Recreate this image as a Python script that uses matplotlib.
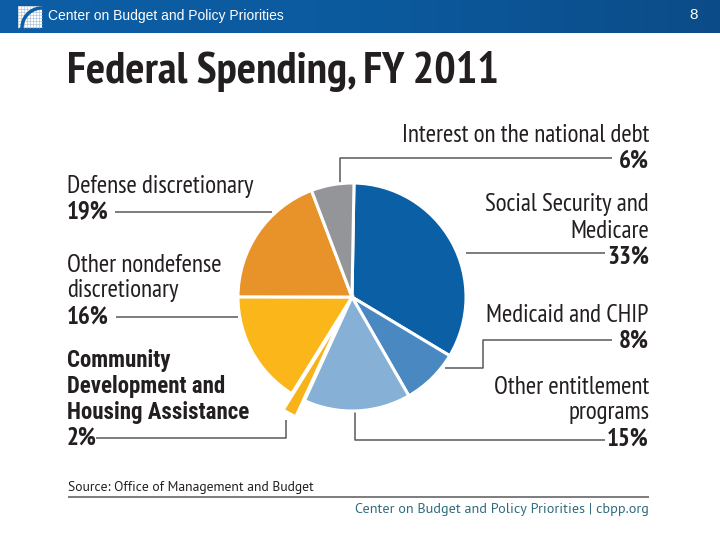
import matplotlib
matplotlib.use("Agg")
import matplotlib.pyplot as plt
import numpy as np
from matplotlib.colors import LinearSegmentedColormap

# ---------- data ----------
categories = ["Social Security and Medicare", "Medicaid and CHIP", "Other entitlement programs",
              "Community Development and Housing Assistance", "Other nondefense discretionary",
              "Defense discretionary", "Interest on the national debt"]
shares = [33, 8, 15, 2, 16, 19, 6]
colors = ["#0b5fa5", "#4a88c1", "#87b0d6", "#f8b31b", "#fbb719", "#e8922a", "#939598"]
explode = [0, 0, 0, 0.16, 0, 0, 0]

FAM = ["PT Sans Narrow", "DejaVu Sans"]
FAM_B = ["Roboto Condensed", "PT Sans Narrow", "DejaVu Sans"]
FAM_FOOT = ["PT Sans", "DejaVu Sans"]

W, H = 720, 540
fig = plt.figure(figsize=(W / 100, H / 100), dpi=100)

# overlay axes in pixel coordinates
ov = fig.add_axes([0, 0, 1, 1])
ov.set_xlim(0, W); ov.set_ylim(H, 0); ov.axis("off")

# header bar
grad = np.linspace(0, 1, 256)[None, :]
cm = LinearSegmentedColormap.from_list("hdr", ["#0c5ea6", "#0c5a9e", "#0b4c88"])
ov.imshow(grad, cmap=cm, extent=[0, W, 33, 0], aspect="auto", zorder=0)
# logo
ov.add_patch(plt.Rectangle((18, 6), 24, 22, facecolor="white", edgecolor="none", zorder=1))
for gx in np.arange(18, 42, 3):
    ov.plot([gx, gx], [6, 28], color="#9fb8d0", lw=0.4, zorder=2)
for gy in np.arange(6, 28, 3):
    ov.plot([18, 42], [gy, gy], color="#9fb8d0", lw=0.4, zorder=2)
th = np.linspace(np.pi / 2, np.pi, 30)
ov.plot(42 + 20 * np.cos(th), 28 - 20 * np.sin(th), color="#0c5ea6", lw=2.5, zorder=3)
ov.text(48, 16, "Center on Budget and Policy Priorities", color="white", fontsize=10,
        family="Liberation Sans", va="center", ha="left")
ov.text(698, 15, "8", color="white", fontsize=11, family="Liberation Sans", va="center", ha="right")

# title
ov.text(67, 72, "Federal Spending, FY 2011", fontsize=32.5, fontweight="bold", family=FAM,
        color="#231f20", va="center", ha="left")

# pie
cx, cy, r = 352, 297, 114
pax = fig.add_axes([(cx - r) / W, 1 - (cy + r) / H, 2 * r / W, 2 * r / H])
pax.pie(shares, colors=colors, explode=explode, startangle=89, counterclock=False,
        wedgeprops=dict(edgecolor="white", linewidth=2.2))
pax.set_xlim(-1, 1); pax.set_ylim(-1, 1)
pax.set_aspect("auto"); pax.axis("off")

lc = "#58595b"
lw = 1.1
def line(xs, ys):
    ov.plot(xs, ys, color=lc, lw=lw, zorder=1, solid_capstyle="butt")

tc = "#231f20"
fs = 18
def lab(x, y, s, ha, bold=False, fam=FAM, size=fs):
    ov.text(x, y, s, fontsize=size, family=fam, color=tc, ha=ha, va="center",
            fontweight="bold" if bold else "normal")

# right side labels
lab(649, 136, "Interest on the national debt", "right")
lab(649, 161, "6%", "right", True)
line([340, 340, 612], [183, 158, 158])

lab(649, 205, "Social Security and", "right")
lab(649, 231, "Medicare", "right")
lab(649, 257, "33%", "right", True)
line([466, 605], [253, 253])

lab(649, 315, "Medicaid and CHIP", "right")
lab(649, 341, "8%", "right", True)
line([445, 483, 483, 612], [368, 368, 340, 340])

lab(649, 387, "Other entitlement", "right")
lab(649, 413, "programs", "right")
lab(649, 439, "15%", "right", True)
line([355, 355, 605], [410, 440, 440])

# left side labels
lab(67, 186, "Defense discretionary", "left")
lab(67, 212, "19%", "left", True)
line([115, 272], [212, 212])

lab(67, 265, "Other nondefense", "left")
lab(67, 291, "discretionary", "left")
lab(67, 317, "16%", "left", True)
line([116, 238], [317, 317])

lab(67, 360, "Community", "left", True, FAM_B, 16.5)
lab(67, 386, "Development and", "left", True, FAM_B, 16.5)
lab(67, 412, "Housing Assistance", "left", True, FAM_B, 16.5)
lab(67, 438, "2%", "left", True)
line([96, 286, 286], [438, 438, 420])

# footer
ov.text(68, 487, "Source: Office of Management and Budget", fontsize=9.8, family=FAM_FOOT,
        color=tc, ha="left", va="center")
line([68, 649], [497, 497])
ov.text(649, 509, "Center on Budget and Policy Priorities | cbpp.org", fontsize=10.2, family=FAM_FOOT,
        color="#2f6b7e", ha="right", va="center")

fig.savefig("out.png", dpi=100)
